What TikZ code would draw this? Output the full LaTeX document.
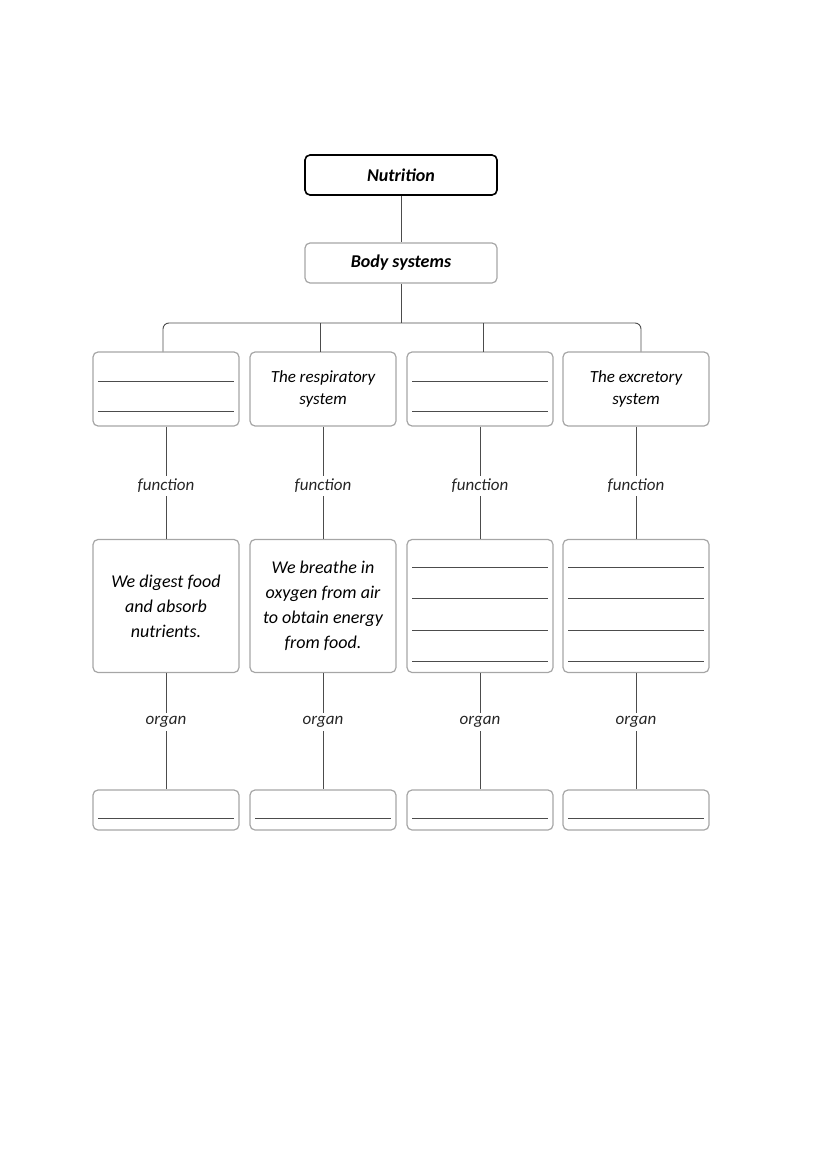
\documentclass[tikz,border=0pt]{standalone}
\usepackage{fontspec}
\setmainfont{Carlito}
\usetikzlibrary{positioning}
\tikzset{
  sysbox/.style={draw=gray!70, line width=1.2pt, rounded corners=5pt, minimum width=146pt, align=center, font=\itshape\fontsize{17}{22}\selectfont},
  topbox/.style={sysbox, draw=black, line width=1.6pt, minimum width=192pt, minimum height=40pt, font=\bfseries\itshape\fontsize{18}{20}\selectfont},
  link/.style={draw=gray!60!black, line width=0.9pt},
  blank/.style={draw=gray!60!black, line width=0.9pt},
  lbl/.style={font=\itshape\fontsize{17}{20}\selectfont, text=gray!30!black}
}
\begin{document}
\begin{tikzpicture}[x=1pt,y=-1pt]
  \useasboundingbox (0,0) rectangle (821,1161);
  % top of the tree
  \node[topbox] (nut) at (401,175) {Nutrition};
  \node[topbox, draw=gray!70, line width=1.2pt] (body) at (401,263) {Body systems};
  \draw[link] (nut) -- (body);
  \coordinate (bus) at (401,323);
  \draw[link] (body) -- (bus);
  \draw[link, rounded corners=6pt] (163,352) -- (163,323) -- (641,323) -- (641,352);
  % the four columns
  \foreach \i/\x/\txt in {1/166/{}, 2/323/{The respiratory\\system}, 3/480/{}, 4/636/{The excretory\\system}} {
    \node[sysbox, minimum height=74pt] (sys\i) at (\x,389) {\txt};
    \node[lbl] (fun\i) at (\x,486) {function};
    \node[sysbox, minimum height=133pt] (job\i) at (\x,606) {};
    \node[lbl] (org\i) at (\x,722) {organ};
    \node[sysbox, minimum height=40pt] (part\i) at (\x,810) {};
    \draw[link] (sys\i) -- (fun\i);
    \draw[link] (fun\i) -- (job\i);
    \draw[link] (job\i) -- (org\i);
    \draw[link] (org\i) -- (part\i);
    \draw[blank] ([xshift=6pt,yshift=-8pt]part\i.west) -- ([xshift=-6pt,yshift=-8pt]part\i.east);
  }
  \foreach \x in {320,483} \draw[link] (\x,323) -- (\x,352);
  % blank lines to fill in
  \foreach \i in {1,3} \foreach \y in {381,411}
    \draw[blank] ([xshift=6pt]sys\i.west |- 0,\y) -- ([xshift=-6pt]sys\i.east |- 0,\y);
  \foreach \i in {3,4} \foreach \y in {567,598,630,661}
    \draw[blank] ([xshift=6pt]job\i.west |- 0,\y) -- ([xshift=-6pt]job\i.east |- 0,\y);
  % given functions
  \node[align=center, font=\itshape\fontsize{18}{25}\selectfont] at (job1) {We digest food\\and absorb\\nutrients.};
  \node[align=center, font=\itshape\fontsize{18}{25}\selectfont] at (job2) {We breathe in\\oxygen from air\\to obtain energy\\from food.};
\end{tikzpicture}
\end{document}
